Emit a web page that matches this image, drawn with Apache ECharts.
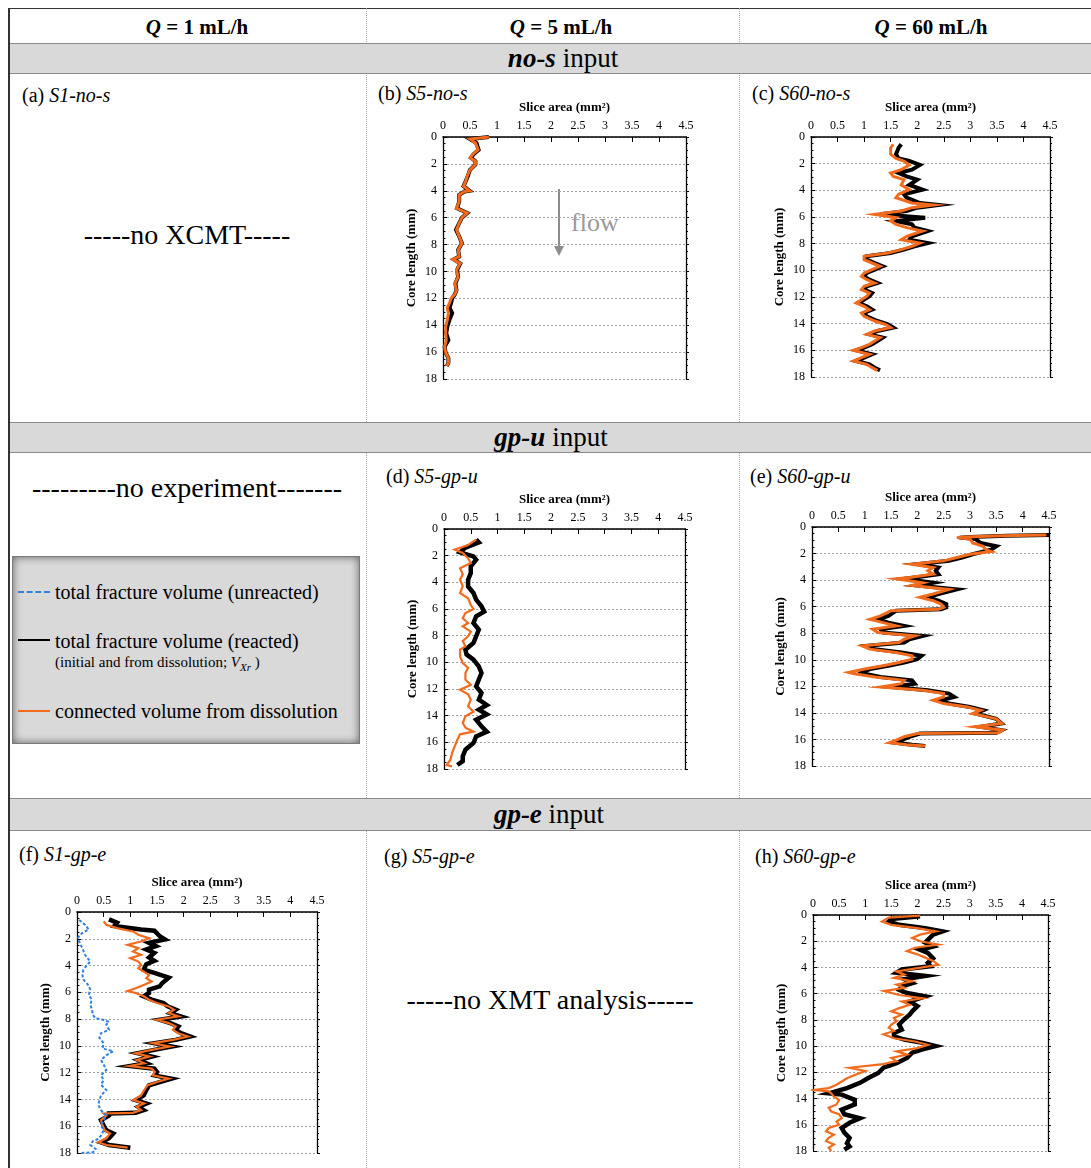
<!DOCTYPE html>
<html><head><meta charset="utf-8">
<script src="https://cdn.jsdelivr.net/npm/echarts@6/dist/echarts.min.js"></script>
<style>
html,body{margin:0;padding:0;background:#fff;}
body{width:1091px;height:1168px;position:relative;overflow:hidden;font-family:"Liberation Serif","Times New Roman",serif;color:#000;}
.ctr{position:absolute;width:400px;text-align:center;white-space:nowrap;}
.hdr{font-size:21px;font-weight:bold;height:30px;line-height:30px;}
.band{position:absolute;left:10px;width:1081px;background:#d9d9d9;border-top:1px solid #8a8a8a;border-bottom:1px solid #8a8a8a;}
.btxt{font-size:27px;height:30px;line-height:30px;}
.lab{position:absolute;font-size:20px;height:24px;line-height:24px;white-space:nowrap;}
.none{font-size:28px;height:34px;line-height:34px;}
.vdiv{position:absolute;top:8px;height:1160px;border-left:1px dotted #a8a8a8;}
#legend{position:absolute;left:12px;top:556px;width:346px;height:186px;background:#d9d9d9;border:1px solid #7a7a7a;box-shadow:inset 0 0 9px rgba(0,0,0,0.55);}
.lg{position:absolute;font-size:20px;white-space:nowrap;line-height:24px;height:24px;}
.lsub{position:absolute;font-size:15px;white-space:nowrap;line-height:18px;}
.smp{position:absolute;left:18px;width:32px;height:0;}
#chart{position:absolute;left:0;top:0;width:1091px;height:1168px;}
</style></head>
<body>
<!-- table frame -->
<div style="position:absolute;left:9px;top:8px;width:1082px;height:0;border-top:1px solid #333;"></div>
<div style="position:absolute;left:8px;top:8px;width:0;height:1160px;border-left:2px solid #333;"></div>
<div class="vdiv" style="left:366px;"></div>
<div class="vdiv" style="left:739px;"></div>

<div class="ctr hdr" style="left:-3px;top:12px;"><i>Q</i> = 1 mL/h</div>
<div class="ctr hdr" style="left:361px;top:12px;"><i>Q</i> = 5 mL/h</div>
<div class="ctr hdr" style="left:731px;top:12px;"><i>Q</i> = 60 mL/h</div>

<div class="band" style="top:43px;height:29px;"></div>
<div class="ctr btxt" style="left:363px;top:43px;"><b><i>no-s</i></b> input</div>
<div class="band" style="top:422px;height:29px;"></div>
<div class="ctr btxt" style="left:351px;top:422px;"><b><i>gp-u</i></b> input</div>
<div class="band" style="top:798px;height:31px;"></div>
<div class="ctr btxt" style="left:349px;top:799px;"><b><i>gp-e</i></b> input</div>

<div class="lab" style="left:22px;top:83px;">(a) <i>S1-no-s</i></div>
<div class="lab" style="left:378px;top:81px;">(b) <i>S5-no-s</i></div>
<div class="lab" style="left:752px;top:81px;">(c) <i>S60-no-s</i></div>
<div class="lab" style="left:386px;top:464px;">(d) <i>S5-gp-u</i></div>
<div class="lab" style="left:750px;top:464px;">(e) <i>S60-gp-u</i></div>
<div class="lab" style="left:19px;top:842px;">(f) <i>S1-gp-e</i></div>
<div class="lab" style="left:384px;top:844px;">(g) <i>S5-gp-e</i></div>
<div class="lab" style="left:755px;top:844px;">(h) <i>S60-gp-e</i></div>

<div class="ctr none" style="left:-13px;top:218px;">-----no XCMT-----</div>
<div class="ctr none" style="left:-13px;top:471px;">---------no experiment-------</div>
<div class="ctr none" style="left:350px;top:983px;">-----no XMT analysis-----</div>

<div id="legend"></div>
<div class="smp" style="top:591px;border-top:2px dashed #2f7fe6;"></div>
<div class="lg" style="left:55px;top:580px;">total fracture volume (unreacted)</div>
<div class="smp" style="top:639px;border-top:2.5px solid #000;"></div>
<div class="lg" style="left:55px;top:629px;">total fracture volume (reacted)</div>
<div class="lsub" style="left:55px;top:653px;">(initial and from dissolution; <i>V</i><sub style="font-size:11px;"><i>Xr</i></sub> )</div>
<div class="smp" style="top:710px;border-top:2.5px solid #f26b1d;"></div>
<div class="lg" style="left:55px;top:699px;">connected volume from dissolution</div>

<svg style="position:absolute;left:540px;top:180px;" width="100" height="90">
  <line x1="19" y1="9" x2="19" y2="68" stroke="#8c8c8c" stroke-width="2"/>
  <polygon points="14,66 24,66 19,76" fill="#8c8c8c"/>
</svg>
<div style="position:absolute;left:571px;top:207px;font-size:26px;line-height:32px;color:#9a9a9a;">flow</div>

<div id="chart"></div>
<script>
// ---------- (b) S5-no-s ----------
const bDepth = [0.0,0.15,0.45,0.95,1.3,1.55,1.8,2.05,2.45,2.9,3.3,3.65,4.0,4.05,4.3,4.8,5.3,5.65,6.0,6.4,6.9,7.4,7.9,8.4,8.9,9.1,9.4,9.9,10.4,10.9,11.4,11.7,12.0,12.35,12.7,13.1,13.6,14.1,14.6,15.1,15.6,16.05,16.45,16.8,17.05];
const bReacted = [0.85,0.5,0.62,0.66,0.56,0.52,0.6,0.6,0.5,0.46,0.42,0.38,0.49,0.4,0.3,0.3,0.26,0.45,0.35,0.3,0.24,0.3,0.35,0.28,0.3,0.2,0.32,0.26,0.28,0.23,0.25,0.22,0.17,0.15,0.12,0.17,0.12,0.08,0.06,0.1,0.03,0.05,0.1,0.1,0.07];
const bConnected = [0.85,0.5,0.6,0.65,0.55,0.5,0.6,0.6,0.5,0.45,0.42,0.38,0.49,0.4,0.3,0.3,0.25,0.45,0.35,0.3,0.25,0.3,0.35,0.28,0.3,0.18,0.32,0.25,0.28,0.22,0.25,0.22,0.15,0.12,0.08,0.1,0.08,0.05,0.05,0.06,0.03,0.05,0.1,0.1,0.07];

// ---------- (c) S60-no-s ----------
const cDepth = [0.55,0.8,1.3,1.6,1.8,2.1,2.45,2.7,2.95,3.2,3.6,3.95,4.3,4.55,4.95,5.1,5.3,5.55,5.8,6.05,6.3,6.55,6.8,7.05,7.45,7.7,7.95,8.2,8.45,8.7,8.95,9.2,9.45,9.7,9.95,10.2,10.45,10.7,10.95,11.2,11.45,11.7,11.95,12.2,12.45,12.7,12.95,13.2,13.45,13.8,14.05,14.3,14.55,14.8,15.05,15.3,15.55,15.8,16.0,16.3,16.55,16.8,17.05,17.3,17.5];
const cReacted = [1.7,1.65,1.6,1.65,1.85,2.05,1.9,1.65,1.8,2.0,1.85,2.1,1.75,1.8,2.05,2.4,2.0,1.8,1.3,2.15,1.6,1.9,1.95,2.2,1.9,1.85,2.2,1.95,1.75,1.5,1.05,1.05,1.2,1.35,1.2,1.05,1.0,1.1,1.25,1.05,1.0,1.15,1.1,1.0,0.9,1.05,1.15,1.0,1.05,1.25,1.45,1.55,1.25,1.1,1.35,1.25,1.15,1.0,0.85,1.15,1.0,0.85,1.1,1.2,1.3];
const cConnected = [1.55,1.5,1.5,1.6,1.75,1.85,1.7,1.5,1.55,1.75,1.7,1.85,1.65,1.6,1.9,2.3,1.9,1.7,1.2,1.6,1.5,1.6,1.8,2.1,1.8,1.7,2.05,1.9,1.7,1.45,1.0,1.0,1.15,1.3,1.15,1.0,0.95,1.05,1.2,1.0,0.95,1.1,1.05,0.95,0.85,1.0,1.1,0.95,1.0,1.2,1.4,1.5,1.2,1.05,1.3,1.2,1.1,0.95,0.8,1.1,0.95,0.8,1.05,1.15,1.25];

// ---------- (d) S5-gp-u ----------
const dDepthR = [0.8,1.0,1.4,1.75,2.05,2.3,2.8,3.3,3.8,4.3,4.8,5.3,5.8,6.2,6.55,7.05,7.55,8.05,8.55,9.05,9.4,9.8,10.3,10.8,11.3,11.8,12.3,12.8,13.2,13.55,13.9,14.3,14.8,15.2,15.55,16.05,16.55,17.05,17.4,17.7];
const dReacted = [0.6,0.65,0.4,0.3,0.55,0.6,0.5,0.5,0.45,0.45,0.55,0.6,0.7,0.75,0.6,0.55,0.65,0.6,0.55,0.4,0.42,0.55,0.65,0.7,0.65,0.6,0.7,0.65,0.8,0.65,0.8,0.6,0.7,0.8,0.6,0.55,0.4,0.35,0.35,0.25];
const dDepthC = [0.8,1.2,1.55,1.8,2.2,2.55,2.95,3.4,3.8,4.3,4.8,5.2,5.7,6.0,6.3,6.7,7.05,7.3,7.7,8.05,8.4,8.8,9.05,9.55,10.05,10.4,10.8,11.3,11.7,12.05,12.4,12.8,13.3,13.7,14.05,14.55,14.9,15.2,15.4,15.8,16.3,16.8,17.3,17.7,17.8];
const dConnected = [0.6,0.45,0.2,0.35,0.45,0.5,0.3,0.35,0.3,0.35,0.3,0.45,0.5,0.55,0.4,0.35,0.45,0.35,0.5,0.45,0.35,0.4,0.3,0.3,0.35,0.45,0.4,0.4,0.5,0.3,0.45,0.5,0.45,0.55,0.4,0.35,0.4,0.55,0.3,0.25,0.2,0.15,0.12,0.05,0.15];

// ---------- (e) S60-gp-u ----------
const eDepth = [0.6,0.65,0.75,0.8,0.9,1.2,1.45,1.7,1.85,2.05,2.3,2.55,2.8,3.05,3.3,3.55,3.8,3.9,4.2,4.4,4.7,5.05,5.3,5.55,5.8,6.05,6.2,6.3,6.7,6.95,7.2,7.45,7.7,7.95,8.2,8.45,8.7,8.95,9.2,9.45,9.7,9.95,10.2,10.45,10.7,10.95,11.05,11.3,11.55,11.8,12.05,12.3,12.55,12.8,13.05,13.3,13.55,13.8,14.05,14.45,14.8,15.05,15.3,15.5,15.55,15.8,16.05,16.25,16.4,16.5];
const eReacted = [4.5,3.7,3.0,2.8,3.1,3.2,3.5,3.4,3.4,3.05,2.85,2.6,2.0,2.4,2.35,2.4,1.95,1.75,2.3,2.0,2.75,2.4,2.2,2.4,2.55,2.55,2.45,1.6,1.45,1.25,1.45,1.75,1.3,1.35,2.1,1.85,1.75,1.05,1.2,1.7,2.08,2.0,1.75,1.45,1.1,0.95,1.0,1.3,1.9,1.95,1.5,2.2,2.6,2.7,2.45,2.6,3.0,3.25,3.1,3.5,3.6,3.2,3.6,3.5,2.05,1.85,1.7,1.6,1.9,2.15];
const eConnected = [4.45,3.6,2.9,2.75,3.0,3.05,3.25,3.3,3.4,3.0,2.75,2.5,1.9,2.3,2.2,2.3,1.85,1.6,2.1,1.9,2.6,2.3,2.05,2.3,2.45,2.5,2.4,1.5,1.3,1.1,1.35,1.6,1.15,1.25,1.95,1.75,1.65,0.95,1.1,1.6,1.9,1.9,1.65,1.35,1.0,0.7,0.8,1.2,1.75,1.7,1.3,2.1,2.5,2.5,2.3,2.5,2.95,3.2,3.05,3.5,3.6,3.1,3.62,3.55,2.0,1.75,1.6,1.47,1.8,2.15];

// ---------- (f) S1-gp-e ----------
const fDepthR = [0.55,0.8,1.05,1.3,1.4,1.8,2.05,2.3,2.55,2.8,3.05,3.4,3.65,3.9,4.3,4.55,4.9,5.3,5.55,5.8,6.05,6.3,6.55,6.8,7.05,7.3,7.55,7.8,8.05,8.3,8.55,8.8,9.05,9.3,9.55,9.8,10.05,10.3,10.55,10.8,11.05,11.3,11.5,11.7,11.95,12.2,12.45,12.7,12.95,13.3,13.7,14.05,14.3,14.55,14.8,15.0,15.05,15.2,15.55,15.95,16.3,16.55,16.9,17.2,17.4,17.6];
const fReacted = [0.6,0.75,0.7,1.2,1.45,1.55,1.65,1.35,1.48,1.3,1.45,1.35,1.45,1.3,1.25,1.45,1.72,1.6,1.55,1.35,1.35,1.25,1.4,1.62,1.7,1.85,1.75,1.95,1.55,1.75,1.9,1.85,1.95,2.12,1.85,1.45,1.78,1.45,1.14,1.4,1.15,1.3,1.0,1.45,1.5,1.45,1.77,1.55,1.35,1.3,1.25,1.1,1.3,1.15,1.25,1.1,0.6,0.6,0.45,0.5,0.55,0.68,0.6,0.45,0.6,1.0];
const fDepthC = [0.7,0.95,1.2,1.45,1.7,1.95,2.2,2.45,2.7,2.95,3.2,3.45,3.7,3.95,4.2,4.45,4.7,4.95,5.2,5.45,5.7,5.9,6.05,6.3,6.55,6.8,7.05,7.3,7.55,7.8,8.05,8.3,8.55,8.8,9.05,9.3,9.55,9.8,10.05,10.3,10.55,10.8,11.05,11.3,11.5,11.7,11.95,12.2,12.45,12.7,12.95,13.3,13.7,14.05,14.3,14.55,14.8,15.0,15.05,15.2,15.55,15.95,16.3,16.55,16.9,17.2,17.4,17.6];
const fConnected = [0.5,0.55,0.75,1.05,1.15,1.35,1.2,0.95,1.15,1.05,1.2,1.0,1.15,1.2,1.15,1.25,1.35,1.3,1.4,1.25,1.1,0.95,1.1,1.25,1.35,1.5,1.72,1.82,1.72,1.9,1.5,1.72,1.85,1.8,1.9,2.08,1.8,1.42,1.74,1.4,1.1,1.36,1.12,1.26,0.98,1.4,1.46,1.42,1.72,1.5,1.32,1.26,1.2,1.06,1.26,1.12,1.2,1.05,0.5,0.55,0.45,0.48,0.52,0.62,0.55,0.4,0.55,0.95];
const fDepthU = [0.6,0.95,1.3,1.4,1.7,1.95,2.3,2.7,3.2,3.7,3.9,4.3,4.65,5.05,5.4,5.8,6.2,6.55,6.9,7.3,7.7,7.95,8.0,8.2,8.4,8.8,9.05,9.4,9.8,10.2,10.4,10.7,11.05,11.4,11.8,12.2,12.55,12.9,13.3,13.7,14.05,14.4,14.8,15.2,15.55,15.95,16.3,16.7,16.95,17.1,17.4,17.7,17.95,18.0];
const fUnreacted = [0.04,0.15,0.22,0.25,0.05,0.02,0.05,0.1,0.15,0.25,0.2,0.12,0.1,0.12,0.2,0.25,0.22,0.28,0.25,0.28,0.3,0.35,0.45,0.6,0.55,0.6,0.45,0.42,0.5,0.48,0.68,0.55,0.45,0.5,0.55,0.45,0.5,0.45,0.55,0.45,0.42,0.4,0.45,0.55,0.5,0.45,0.5,0.45,0.4,0.3,0.25,0.35,0.3,0.05];

// ---------- (h) S60-gp-e ----------
const hDepthR = [0.1,0.3,0.5,0.75,1.0,1.25,1.5,1.9,2.1,2.4,2.65,2.9,3.3,3.65,3.9,4.15,4.4,4.65,4.9,5.2,5.45,5.7,5.95,6.2,6.6,6.95,7.35,7.6,7.95,8.35,8.75,9.0,9.25,9.5,9.75,10.0,10.25,10.5,10.9,11.3,11.65,12.05,12.45,12.8,13.2,13.6,13.7,14.1,14.45,14.85,15.2,15.5,15.85,16.25,16.6,17.0,17.4,17.65,17.9];
const hReacted = [2.05,1.5,1.45,1.65,2.15,2.48,2.3,2.2,2.15,2.3,2.05,2.2,2.3,2.2,2.25,1.7,1.6,2.15,1.75,1.9,1.7,1.65,1.8,2.15,1.85,2.0,1.9,1.85,1.75,1.65,1.7,1.55,1.55,1.75,2.1,2.35,2.1,1.9,1.8,1.6,1.35,1.25,1.05,0.9,0.65,0.3,0.55,0.8,0.8,0.55,0.6,0.9,0.7,0.55,0.6,0.7,0.65,0.7,0.6];
const hDepthC = [0.05,0.2,0.5,0.75,1.0,1.25,1.5,1.75,2.0,2.25,2.5,2.75,3.0,3.25,3.5,3.8,4.05,4.3,4.55,4.8,5.05,5.3,5.55,5.8,6.1,6.35,6.6,6.85,7.1,7.35,7.6,7.85,8.1,8.35,8.6,8.85,9.1,9.4,9.65,9.9,10.15,10.4,10.65,10.9,11.15,11.4,11.65,11.9,12.2,12.45,12.7,12.95,13.2,13.35,13.45,13.6,13.85,14.1,14.45,14.7,15.0,15.2,15.5,15.75,16.0,16.25,16.5,16.75,17.0,17.25,17.5,17.75,18.0];
const hConnected = [2.05,1.45,1.32,1.5,2.0,2.35,2.05,1.9,2.05,2.4,1.95,1.8,2.0,2.15,2.3,2.4,2.0,1.6,1.75,1.55,1.9,1.6,1.75,1.36,1.65,2.1,1.7,1.85,1.65,1.5,1.7,1.55,1.6,1.5,1.45,1.55,1.35,1.55,1.95,2.2,2.0,1.6,1.8,1.5,1.6,1.3,0.7,1.0,0.8,0.65,0.55,0.45,0.3,0.02,0.3,0.35,0.4,0.5,0.45,0.3,0.35,0.5,0.55,0.45,0.5,0.3,0.25,0.4,0.3,0.25,0.4,0.3,0.35];

// ---------- axes ----------
const xTickMin = 0, xTickMax = 4.5, xTickStep = 0.5;
const yTickMin = 0, yTickMax = 18, yTickStep = 2;

const FONT = '"Liberation Serif","Times New Roman",serif';
const BLACK = '#000000', ORANGE = '#f26b1d', BLUE = '#2f7fe6';

const grids = [
  {left:443, top:137, width:243, height:242},
  {left:811, top:137, width:239, height:240},
  {left:444, top:529, width:241, height:240},
  {left:812, top:527, width:237, height:239},
  {left:77,  top:912, width:240, height:241},
  {left:813, top:915, width:235, height:236}
];

function pts(depth, vals){ return depth.map((d,i)=>[vals[i], d]); }

const xAxes = [], yAxes = [];
grids.forEach((g, i) => {
  xAxes.push({
    gridIndex:i, type:'value', position:'top', min:xTickMin, max:xTickMax, interval:xTickStep,
    name:'Slice area (mm²)', nameLocation:'middle', nameGap:23,
    nameTextStyle:{fontFamily:FONT, fontSize:13, fontWeight:'bold', color:'#000'},
    axisLine:{show:true, onZero:false, lineStyle:{color:'#000', width:1.6}},
    axisTick:{show:true, inside:true, length:5, lineStyle:{color:'#000', width:1}},
    axisLabel:{fontFamily:FONT, fontSize:12, color:'#000', margin:5, showMinLabel:true, showMaxLabel:true},
    splitLine:{show:false}
  });
  yAxes.push({
    gridIndex:i, type:'value', position:'left', inverse:true, min:yTickMin, max:yTickMax, interval:yTickStep,
    name:'Core length (mm)', nameLocation:'middle', nameGap:25, nameRotate:90,
    nameTextStyle:{fontFamily:FONT, fontSize:13, fontWeight:'bold', color:'#000'},
    axisLine:{show:true, onZero:false, lineStyle:{color:'#000', width:1.3}},
    axisTick:{show:true, inside:true, length:4, lineStyle:{color:'#000'}},
    minorTick:{show:true, splitNumber:4, length:2.5, lineStyle:{color:'#000'}},
    axisLabel:{fontFamily:FONT, fontSize:12, color:'#000', margin:6, showMinLabel:true, showMaxLabel:true},
    splitLine:{show:true, lineStyle:{color:'#a0a0a0', width:1, type:[2,2]}}
  });
  yAxes.push({
    gridIndex:i, type:'value', position:'right', inverse:true, min:yTickMin, max:yTickMax, interval:yTickStep,
    axisLine:{show:true, onZero:false, lineStyle:{color:'#000', width:1.3}},
    axisTick:{show:true, inside:false, length:3, lineStyle:{color:'#000'}},
    minorTick:{show:true, splitNumber:4, length:2, lineStyle:{color:'#000'}},
    axisLabel:{show:false}, splitLine:{show:false}
  });
});

function line(i, data, color, width, dashed){
  return {
    type:'line', xAxisIndex:i, yAxisIndex:2*i, data:data, showSymbol:false, symbol:'none',
    smooth:false, animation:false, silent:true, clip:true,
    lineStyle:{color:color, width:width, type: dashed ? [3,2] : 'solid', join:'miter'}
  };
}

const series = [
  line(0, pts(bDepth, bReacted), BLACK, 4),
  line(0, pts(bDepth, bConnected), ORANGE, 3),
  line(1, pts(cDepth, cReacted), BLACK, 4),
  line(1, pts(cDepth, cConnected), ORANGE, 3),
  line(2, pts(dDepthR, dReacted), BLACK, 4.5),
  line(2, pts(dDepthC, dConnected), ORANGE, 2.2),
  line(3, pts(eDepth, eReacted), BLACK, 4),
  line(3, pts(eDepth, eConnected), ORANGE, 3),
  line(4, pts(fDepthR, fReacted), BLACK, 4.5),
  line(4, pts(fDepthC, fConnected), ORANGE, 2.2),
  line(4, pts(fDepthU, fUnreacted), BLUE, 2, true),
  line(5, pts(hDepthR, hReacted), BLACK, 4.5),
  line(5, pts(hDepthC, hConnected), ORANGE, 2.2)
];

const chart = echarts.init(document.getElementById('chart'), null, {renderer:'canvas'});
chart.setOption({
  animation:false,
  backgroundColor:'transparent',
  textStyle:{fontFamily:FONT},
  grid: grids.map(g => Object.assign({containLabel:false, outerBoundsMode:'none'}, g)),
  xAxis: xAxes,
  yAxis: yAxes,
  series: series
});
</script>
</body></html>
